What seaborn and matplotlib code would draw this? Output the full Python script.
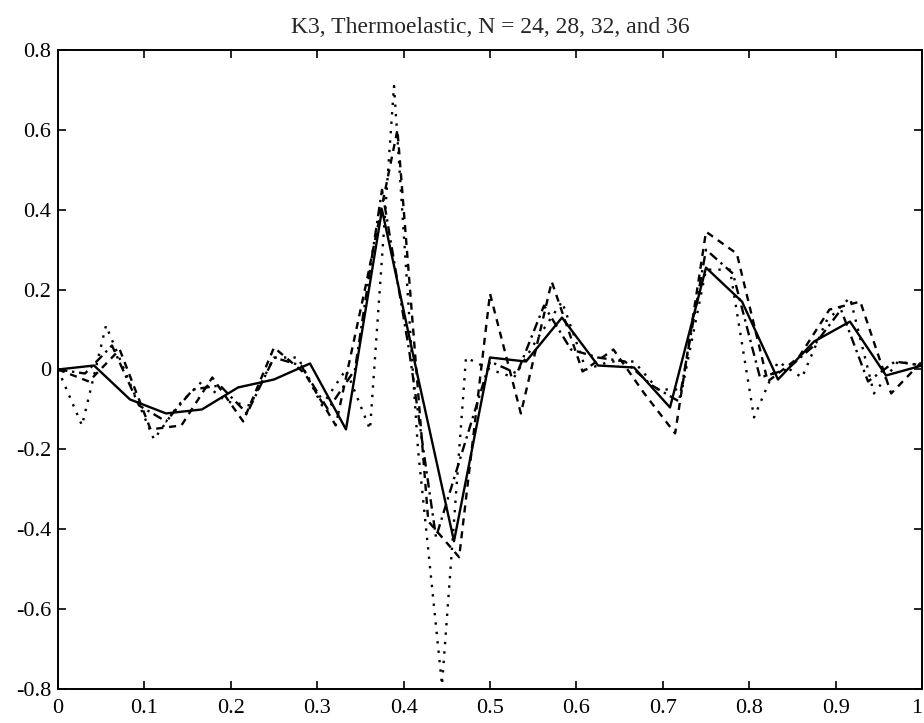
import numpy as np
import pandas as pd
import matplotlib
matplotlib.use("Agg")
import matplotlib.pyplot as plt
import seaborn as sns

# ---- data ----
y24 = [0.0, 0.01, -0.075, -0.11, -0.10, -0.045, -0.025, 0.015, -0.15, 0.40,
       -0.02, -0.43, 0.03, 0.02, 0.13, 0.01, 0.005, -0.095, 0.255, 0.17,
       -0.025, 0.07, 0.12, -0.015, 0.01]
y28 = [0.0, -0.03, 0.05, -0.15, -0.14, -0.02, -0.13, 0.055, -0.01, -0.14,
       0.22, 0.60, -0.38, -0.47, 0.19, -0.11, 0.22, -0.005, 0.05, -0.06,
       -0.16, 0.345, 0.29, -0.03, 0.03, 0.15, 0.17, -0.06, 0.02]
y32 = [0.0, -0.01, 0.06, -0.09, -0.13, -0.05, -0.04, -0.11, 0.03, 0.01,
       -0.10, 0.0, 0.45, 0.05, -0.42, -0.20, 0.02, -0.01, 0.16, 0.05,
       0.03, 0.02, -0.04, -0.08, 0.30, 0.24, -0.02, 0.0, 0.06, 0.15,
       -0.03, 0.02, 0.01]
y36 = [0.0, -0.14, 0.11, -0.035, -0.175, -0.09, -0.03, -0.08, -0.09, 0.03,
       0.03, -0.09, 0.0, -0.15, 0.71, -0.20, -0.79, 0.03, 0.0, -0.02,
       0.08, 0.17, 0.0, 0.02, 0.02, -0.05, -0.05, 0.25, 0.25, -0.12,
       0.02, -0.02, 0.12, 0.18, -0.06, 0.02, 0.01]
series_n = [24, 28, 32, 36]
series_y = [y24, y28, y32, y36]

xticks = [0, 0.1, 0.2, 0.3, 0.4, 0.5, 0.6, 0.7, 0.8, 0.9, 1.0]
xticklabels = ["0", "0.1", "0.2", "0.3", "0.4", "0.5", "0.6", "0.7", "0.8", "0.9", "1"]
yticks = [-0.8, -0.6, -0.4, -0.2, 0, 0.2, 0.4, 0.6, 0.8]
yticklabels = ["-0.8", "-0.6", "-0.4", "-0.2", "0", "0.2", "0.4", "0.6", "0.8"]
title = "K3, Thermoelastic, N = 24, 28, 32, and 36"

frames = []
for n, ys in zip(series_n, series_y):
    xs = np.arange(len(ys)) / n
    frames.append(pd.DataFrame({"x": xs, "y": ys, "N": str(n)}))
df = pd.concat(frames, ignore_index=True)

sns.set_style("ticks")
plt.rcParams["font.family"] = ["Liberation Serif", "DejaVu Serif"]
plt.rcParams["axes.linewidth"] = 1.4

fig = plt.figure(figsize=(9.24, 7.23), dpi=100)
ax = fig.add_axes([58 / 924, 1 - 689 / 723, 864 / 924, 639 / 723])

sns.lineplot(data=df, x="x", y="y", style="N", color="black",
             dashes={"24": "", "28": (3, 2.5), "32": (4, 2, 1, 2), "36": (1, 3)},
             estimator=None, sort=False, legend=False, linewidth=1.7, ax=ax)

ax.set_xlim(0, 1)
ax.set_ylim(-0.8, 0.8)
ax.set_xticks(xticks)
ax.set_xticklabels(xticklabels)
ax.set_yticks(yticks)
ax.set_yticklabels(yticklabels)
ax.set_xlabel("")
ax.set_ylabel("")
ax.tick_params(direction="in", length=6, width=1.2, top=True, right=True,
               labelsize=16, colors="black")
ax.tick_params(axis="x", pad=7)
ax.tick_params(axis="y", pad=5)
# keep the last x label ("1") inside the canvas
ax.get_xticklabels()[-1].set_horizontalalignment("right")
for s in ax.spines.values():
    s.set_visible(True)
    s.set_color("black")
ax.set_title(title, fontsize=17, pad=12)

fig.savefig("out.png", dpi=100)
